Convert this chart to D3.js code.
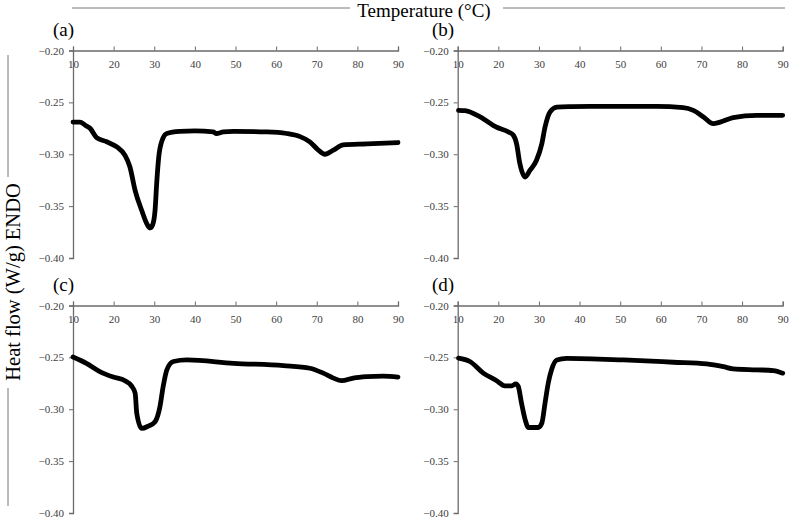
<!DOCTYPE html>
<html><head><meta charset="utf-8">
<script src="https://cdn.jsdelivr.net/npm/d3@7"></script>
<style>
html,body{margin:0;padding:0;background:#fff;}
svg{display:block;font-family:"Liberation Serif","Times New Roman",serif;}
</style></head>
<body><svg id="c" width="790" height="518"></svg>
<script>
const xTicks = [10,20,30,40,50,60,70,80,90];
const yTicks = [-0.20,-0.25,-0.30,-0.35,-0.40];
const panelLabels = ["(a)","(b)","(c)","(d)"];
const xTitle = "Temperature (°C)";
const yTitle = "Heat flow (W/g) ENDO";

const tempA = [10,11.7,13,14.2,15.8,18.3,20.8,22.8,24,25.3,26.9,28.3,29,29.6,30.2,30.6,31.1,31.9,33.1,36.3,40,44.5,45.3,47,49.5,57.7,62.6,65.9,68.3,70.4,72,74.1,76.5,82.3,90];
const flowA = [-0.269,-0.269,-0.272,-0.275,-0.284,-0.288,-0.293,-0.301,-0.312,-0.335,-0.354,-0.368,-0.371,-0.368,-0.354,-0.328,-0.303,-0.287,-0.280,-0.278,-0.2775,-0.2785,-0.280,-0.2785,-0.278,-0.2785,-0.280,-0.283,-0.288,-0.296,-0.300,-0.296,-0.291,-0.290,-0.2887];

const tempB = [10.2,11.8,15.5,19.6,22.5,23.7,24.5,25.3,26.6,27.8,29.4,30.7,31.5,32.7,34.4,38.1,42.6,59,65.5,68,70.5,72.9,74.6,77.8,83.6,90];
const flowB = [-0.2577,-0.258,-0.264,-0.274,-0.2785,-0.2817,-0.290,-0.309,-0.322,-0.3154,-0.3058,-0.290,-0.2737,-0.2593,-0.2545,-0.254,-0.2538,-0.2538,-0.255,-0.2577,-0.264,-0.2705,-0.269,-0.2647,-0.2625,-0.2625];

const tempC = [10,13.3,16.6,19.9,22.8,24.4,25.3,25.7,26.9,28.5,30.2,31.4,32.2,33.1,34.7,38,49.5,61.8,68.3,71.6,74.1,76.1,79,82.3,86.4,90];
const flowC = [-0.2496,-0.2557,-0.2637,-0.269,-0.2725,-0.2775,-0.2846,-0.304,-0.3185,-0.3163,-0.312,-0.2976,-0.278,-0.262,-0.254,-0.2525,-0.2557,-0.258,-0.2605,-0.2652,-0.270,-0.2725,-0.270,-0.2686,-0.268,-0.269];

const tempD = [10.2,13,16.3,19.6,21.6,23.3,24.3,24.9,25.7,26.6,27.4,29.8,30.7,31.5,32.3,33.1,34.4,36.8,50.8,63.1,71.3,75.4,77.8,83.6,87.7,90];
const flowD = [-0.2507,-0.254,-0.2652,-0.2725,-0.2775,-0.2775,-0.2756,-0.278,-0.294,-0.310,-0.3176,-0.3176,-0.3135,-0.294,-0.2746,-0.262,-0.2525,-0.2509,-0.2525,-0.2547,-0.2563,-0.259,-0.2611,-0.262,-0.2627,-0.2652];

const series = [[tempA,flowA],[tempB,flowB],[tempC,flowC],[tempD,flowD]];
const boxes = [
  {x0:73, x1:398, top:50.5, bottom:258, lx:53, ly:36},
  {x0:457.7, x1:782.7, top:50.5, bottom:258, lx:432, ly:36},
  {x0:73, x1:398, top:305.5, bottom:513, lx:53, ly:291},
  {x0:457.7, x1:782.7, top:305.5, bottom:513, lx:432, ly:291}
];

const svg = d3.select("#c");
const axisCol = "#6b6b6b";
const textCol = "#404040";
const serif = '"Liberation Serif","Times New Roman",serif';

svg.append("line").attr("x1",72).attr("x2",350).attr("y1",8).attr("y2",8).attr("stroke","#777").attr("stroke-width",1);
svg.append("line").attr("x1",503).attr("x2",785).attr("y1",8).attr("y2",8).attr("stroke","#777").attr("stroke-width",1);
svg.append("text").attr("x",424).attr("y",17).attr("text-anchor","middle").attr("font-size",19).attr("fill","#000").text(xTitle);

svg.append("line").attr("x1",8).attr("x2",8).attr("y1",55).attr("y2",177).attr("stroke","#777").attr("stroke-width",1);
svg.append("line").attr("x1",8).attr("x2",8).attr("y1",388).attr("y2",506).attr("stroke","#777").attr("stroke-width",1);
svg.append("text").attr("transform","translate(20,282) rotate(-90)").attr("text-anchor","middle").attr("font-size",20.5).attr("fill","#000").text(yTitle);

boxes.forEach((b,i)=>{
  const x = d3.scaleLinear().domain([10,90]).range([b.x0,b.x1]);
  const y = d3.scaleLinear().domain([-0.20,-0.40]).range([b.top,b.bottom]);
  const g = svg.append("g");

  const ya = g.append("g").attr("transform",`translate(${b.x0},0)`)
    .call(d3.axisLeft(y).tickValues(yTicks).tickFormat(d3.format(".2f")).tickSize(4).tickPadding(5));
  ya.attr("font-family",serif);
  ya.select(".domain").attr("stroke",axisCol).attr("stroke-width",1.3);
  ya.selectAll(".tick line").attr("stroke",axisCol);
  ya.selectAll("text").attr("font-size",11).attr("fill",textCol);

  const xa = g.append("g").attr("transform",`translate(0,${b.top})`)
    .call(d3.axisTop(x).tickValues(xTicks).tickSize(4).tickSizeOuter(4));
  xa.attr("font-family",serif);
  xa.select(".domain").attr("stroke",axisCol).attr("stroke-width",1.3);
  xa.selectAll(".tick line").attr("stroke",axisCol);
  xa.selectAll("text").attr("font-size",11).attr("fill",textCol).attr("y",17).attr("dy",0);

  const [ts,fs] = series[i];
  const pts = ts.map((t,k)=>[t,fs[k]]);
  g.append("path").datum(pts)
    .attr("fill","none").attr("stroke","#000").attr("stroke-width",4.8)
    .attr("stroke-linejoin","round").attr("stroke-linecap","round")
    .attr("d", d3.line().x(d=>x(d[0])).y(d=>y(d[1])).curve(d3.curveMonotoneX));

  svg.append("text").attr("x",b.lx).attr("y",b.ly).attr("font-size",19).attr("fill","#000").text(panelLabels[i]);
});
</script>
</body></html>
